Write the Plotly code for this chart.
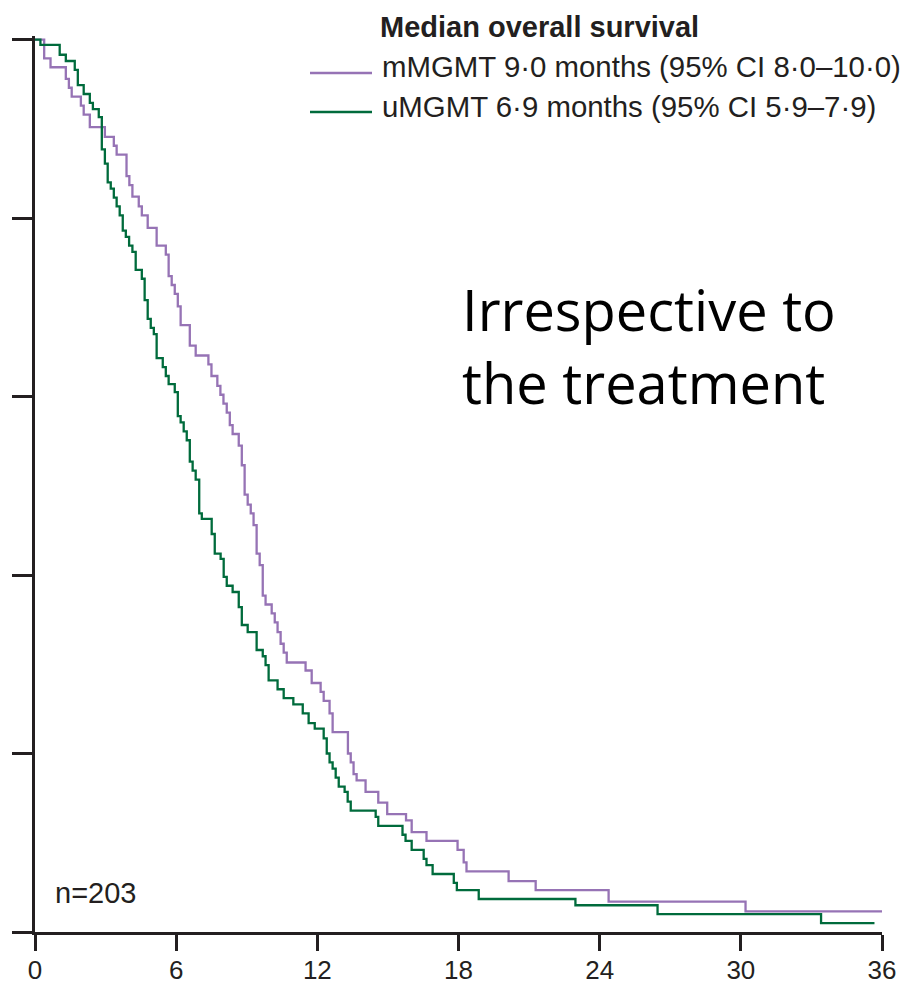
import plotly.graph_objects as go

# Kaplan-Meier overall survival by MGMT promoter status (months, % surviving)
m_times = [0, 0.39, 0.66, 1.31, 1.44, 1.56, 1.95, 2.07, 2.33, 2.97, 3.35, 3.47, 3.89, 4.01,
           4.14, 4.41, 4.54, 4.79, 5.17, 5.56, 5.68, 5.81, 5.94, 6.07, 6.19, 6.58, 6.83,
           7.37, 7.50, 7.75, 7.88, 8.01, 8.15, 8.28, 8.40, 8.66, 8.79, 8.91, 9.04, 9.17,
           9.29, 9.42, 9.55, 9.68, 9.80, 10.06, 10.19, 10.31, 10.44, 10.57, 10.70, 11.50,
           11.76, 12.14, 12.27, 12.52, 12.65, 13.30, 13.42, 13.54, 13.67, 14.05, 14.59,
           14.97, 15.77, 16.01, 16.64, 17.96, 18.22, 18.34, 20.13, 21.28, 24.38, 30.20]
m_surv = [100, 97.9, 96.9, 95.6, 94.6, 93.6, 92.6, 91.6, 90.2, 89.1, 88.1, 87.1, 84.7, 83.7,
          82.4, 81.3, 80.3, 78.9, 76.9, 75.9, 73.5, 72.5, 71.5, 70.1, 68.0, 65.7, 64.6,
          63.6, 62.3, 61.2, 60.2, 59.2, 58.2, 56.8, 55.8, 54.5, 52.3, 49.0, 47.9, 46.9,
          45.6, 42.4, 41.1, 37.7, 36.7, 35.7, 34.7, 33.6, 32.3, 31.3, 30.2, 29.3,
          27.9, 26.9, 25.9, 24.5, 22.4, 20.0, 19.0, 17.7, 17.0, 15.7, 14.5,
          13.2, 12.5, 11.2, 10.2, 9.2, 7.8, 6.8, 5.7, 4.7, 3.4, 2.3]
m_end = 36.0

u_times = [0, 0.23, 1.05, 1.31, 1.69, 1.82, 2.07, 2.33, 2.46, 2.71, 2.84, 2.97, 3.09, 3.22,
           3.35, 3.47, 3.60, 3.73, 3.86, 4.00, 4.14, 4.28, 4.54, 4.66, 4.79, 4.92, 5.05,
           5.17, 5.43, 5.56, 5.68, 5.94, 6.07, 6.19, 6.32, 6.45, 6.58, 6.70, 6.83, 6.98,
           7.09, 7.51, 7.64, 7.89, 8.02, 8.15, 8.40, 8.66, 8.79, 9.04, 9.42, 9.68, 9.80,
           9.93, 10.31, 10.57, 10.98, 11.38, 11.63, 11.89, 12.27, 12.40, 12.52, 12.65,
           12.78, 12.91, 13.16, 13.29, 13.42, 14.48, 14.59, 15.62, 15.75, 16.01, 16.52,
           16.64, 16.90, 17.80, 17.93, 18.86, 22.97, 26.46, 33.41]
u_surv = [100, 99.4, 98.3, 97.6, 96.6, 94.9, 93.9, 92.9, 92.2, 91.3, 87.7, 86.1, 84.0, 83.3,
          82.3, 81.3, 80.3, 78.6, 77.9, 76.9, 76.2, 74.2, 73.2, 70.8, 68.7, 67.7, 67.0,
          64.3, 63.3, 62.3, 61.4, 60.5, 57.8, 57.1, 56.1, 55.1, 52.7, 51.7, 50.7, 46.9,
          46.3, 44.6, 42.4, 41.8, 39.8, 38.8, 38.1, 36.4, 34.4, 33.6, 31.6, 30.9, 29.9,
          28.2, 27.2, 26.2, 25.5, 24.5, 23.4, 22.8, 21.7, 20.0, 19.0, 18.3,
          17.3, 16.3, 15.7, 14.6, 13.6, 12.9, 11.9, 10.9, 10.2, 9.2, 8.2,
          7.5, 6.5, 5.5, 4.7, 3.7, 3.0, 2.0, 1.0]
u_end = 35.68

x_ticks = [0, 6, 12, 18, 24, 30, 36]
y_ticks = [0, 20, 40, 60, 80, 100]

series_names = ["mMGMT 9·0 months (95% CI 8·0–10·0)", "uMGMT 6·9 months (95% CI 5·9–7·9)"]
legend_title = "Median overall survival"
note_text = "Irrespective to<br>the treatment"
n_text = "n=203"

PURPLE = "#9673b5"
GREEN = "#006b3c"
AXIS = "#231f20"
TEXT_FONT = "Liberation Sans"

fig = go.Figure()
for t, s, end, color in [(m_times, m_surv, m_end, PURPLE), (u_times, u_surv, u_end, GREEN)]:
    fig.add_trace(go.Scatter(
        x=t + [end], y=s + [s[-1]],
        mode="lines", line=dict(color=color, width=2.3, shape="hv"),
        showlegend=False, hoverinfo="skip",
    ))

# plot-area geometry helpers for the key and annotations
L, R, T, B = 35, 20, 36, 55
W, H = 902, 987
pw, ph = W - L - R, H - T - B


def px_x(p):
    return (p - L) / pw


def px_y(p):
    return (H - B - p) / ph


# key: short coloured strokes with labels
for color, label, line_y, text_y in [(PURPLE, series_names[0], 73, 66),
                                     (GREEN, series_names[1], 112, 107)]:
    fig.add_shape(type="line", xref="paper", yref="paper",
                  x0=px_x(310), x1=px_x(372), y0=px_y(line_y), y1=px_y(line_y),
                  line=dict(color=color, width=2.5))
    fig.add_annotation(xref="paper", yref="paper", x=px_x(380), y=px_y(text_y),
                       xanchor="left", yanchor="middle", showarrow=False,
                       text=label, font=dict(family=TEXT_FONT, size=29.4, color=AXIS))

fig.add_annotation(xref="paper", yref="paper", x=px_x(378), y=px_y(27),
                   xanchor="left", yanchor="middle", showarrow=False,
                   text="<b>" + legend_title + "</b>",
                   font=dict(family=TEXT_FONT, size=29, color=AXIS))

fig.add_annotation(xref="paper", yref="paper", x=px_x(460), y=px_y(345),
                   xanchor="left", yanchor="middle", showarrow=False, align="left",
                   text=note_text, font=dict(family="Open Sans", size=56, color="#000000"))

fig.add_annotation(xref="paper", yref="paper", x=px_x(53), y=px_y(893),
                   xanchor="left", yanchor="middle", showarrow=False,
                   text=n_text, font=dict(family=TEXT_FONT, size=29, color=AXIS))

fig.update_layout(
    width=W, height=H,
    margin=dict(l=L, r=R, t=T, b=B, pad=0),
    paper_bgcolor="white", plot_bgcolor="white",
    showlegend=False,
    xaxis=dict(range=[0, 36], tickvals=x_ticks, ticktext=[str(v) for v in x_ticks],
               automargin=False, ticklabelstandoff=-3,
               showgrid=False, zeroline=False, showline=True, linecolor=AXIS, linewidth=2.5,
               ticks="outside", ticklen=16, tickwidth=2.5, tickcolor=AXIS,
               tickfont=dict(family=TEXT_FONT, size=26, color=AXIS)),
    yaxis=dict(range=[0, 100.4], tickvals=y_ticks, showticklabels=False,
               automargin=False,
               showgrid=False, zeroline=False, showline=True, linecolor=AXIS, linewidth=2.5,
               ticks="outside", ticklen=20, tickwidth=2.5, tickcolor=AXIS),
)

fig.write_html("out.html")
